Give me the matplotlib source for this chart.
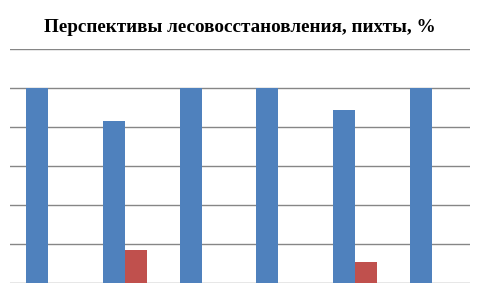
import numpy as np
import matplotlib
matplotlib.use('Agg')
import matplotlib.pyplot as plt

# data (no category labels shown)
groups = [1, 2, 3, 4, 5, 6]
series_a = [100, 83, 100, 100, 89, 100]   # blue
series_b = [0, 17, 0, 0, 11, 0]           # red
y_ticks = [0, 20, 40, 60, 80, 100, 120]

title = 'Перспективы лесовосстановления, пихты, %'

fig = plt.figure(figsize=(4.8, 2.88), dpi=100)
ax = fig.add_axes([10 / 480, 4.7 / 288, 460 / 480, 234 / 288])

x = np.arange(len(groups))
w = 0.287
ax.bar(x - w / 2, series_a, width=w, color='#4F81BD', zorder=3)
ax.bar(x + w / 2, series_b, width=w, color='#C0504D', zorder=3)

ax.set_xlim(-0.5, len(groups) - 0.5)
ax.set_ylim(0, 120)
ax.set_yticks(y_ticks)
ax.grid(axis='y', color='#868686', linewidth=1.0, zorder=0)
ax.set_xticks([])
ax.tick_params(axis='y', length=0, labelleft=False)
for s in ax.spines.values():
    s.set_visible(False)

fig.text(0.5, 1 - 27 / 288, title, ha='center', va='center',
         family='Liberation Serif', weight='bold', fontsize=13.8)

fig.savefig('out.png', dpi=100)
